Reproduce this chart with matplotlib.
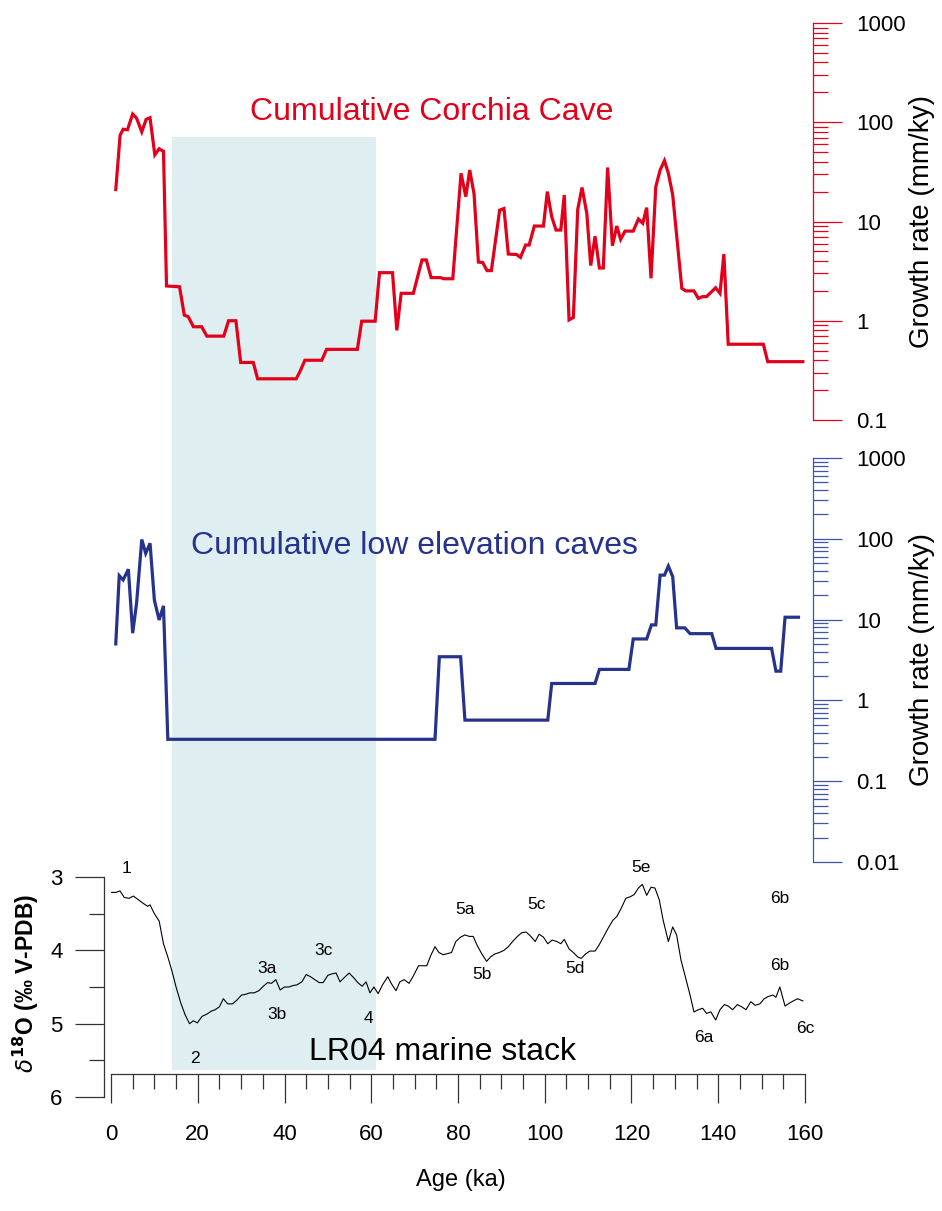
import numpy as np
import matplotlib
matplotlib.use("Agg")
import matplotlib.pyplot as plt
import matplotlib.ticker as mticker
from matplotlib.patches import Rectangle
from matplotlib.transforms import blended_transform_factory

plt.rcParams['font.family'] = ['Liberation Sans', 'DejaVu Sans']

# ----- data

corchia_age = [1.1, 2.1, 2.8, 3.8, 5.0, 5.9, 7.1, 8.1, 9.0, 10.1, 11.1, 12.1, 12.8,
               15.8, 16.9, 17.8, 19.0, 20.9, 22.1, 26.0, 27.1, 28.8, 29.9, 32.8, 33.8,
               42.7, 43.6, 44.7, 48.6, 49.7, 56.8, 57.8, 60.9, 61.9, 64.9, 65.9, 66.9,
               69.7, 71.7, 72.7, 73.8, 76.0, 76.7, 78.8, 80.7, 81.8, 82.7, 83.7, 84.7,
               85.7, 86.7, 87.7, 89.6, 90.6, 91.6, 93.5, 94.4, 95.6, 96.4, 97.6, 99.7,
               100.6, 101.6, 102.6, 103.7, 104.5, 105.6, 106.6, 107.6, 108.6, 109.7,
               110.6, 111.6, 112.6, 113.5, 114.5, 115.6, 116.6, 117.5, 118.5, 120.4,
               121.6, 122.6, 123.5, 124.5, 125.6, 126.6, 127.6, 128.5, 129.5, 131.6,
               132.5, 134.4, 135.4, 136.4, 137.3, 139.4, 140.4, 141.3, 142.3, 150.4,
               151.4, 159.5]
corchia_rate = [21, 74, 85, 84, 121, 110, 80, 107, 111, 47, 54, 51, 2.24,
                2.2, 1.14, 1.1, 0.87, 0.87, 0.70, 0.70, 1.0, 1.0, 0.38, 0.38, 0.26,
                0.26, 0.31, 0.40, 0.40, 0.515, 0.515, 0.99, 0.99, 3.05, 3.05, 0.80, 1.89,
                1.89, 4.1, 4.1, 2.72, 2.72, 2.65, 2.65, 30.6, 17.8, 33, 19, 3.9,
                3.86, 3.2, 3.2, 13, 13.5, 4.7, 4.65, 4.35, 5.8, 5.8, 9.0, 9.0,
                20, 11.2, 8.2, 8.2, 18.5, 1.02, 1.08, 13.2, 22, 12,
                3.6, 7.1, 3.4, 3.4, 35, 5.7, 9.0, 6.6, 8.0, 8.0,
                10.6, 9.6, 13.8, 2.68, 22.4, 33, 41, 30.6, 18.5, 2.12,
                2.0, 2.0, 1.68, 1.75, 1.75, 2.15, 1.89, 4.7, 0.58, 0.58,
                0.387, 0.387]

low_age = [1.1, 1.9, 2.8, 4.0, 5.0, 5.9, 7.1, 8.0, 9.0, 10.0, 11.1, 12.1, 13.1,
           74.7, 75.7, 80.6, 81.6, 100.7, 101.6, 111.6, 112.6, 119.4, 120.4, 123.5,
           124.6, 125.6, 126.6, 127.6, 128.5, 129.5, 130.4, 132.3, 133.5, 138.5,
           139.5, 152.3, 153.3, 154.4, 155.4, 158.5]
low_rate = [5.0, 35, 31, 42, 6.8, 16, 98, 66, 88, 17.4, 9.9, 14.8, 0.33,
            0.33, 3.47, 3.47, 0.57, 0.57, 1.62, 1.62, 2.42, 2.42, 5.76, 5.76,
            8.6, 8.6, 35.5, 35.5, 46, 34, 7.9, 7.9, 6.7, 6.7,
            4.4, 4.4, 2.3, 2.3, 10.7, 10.7]

lr04_age = [0.15, 1.15, 2.07, 3.07, 4.15, 5.15, 6.3, 7.45, 8.45, 9.0, 10.0, 11.1, 12.1,
            13.1, 14.0, 15.0, 16.1, 17.1, 18.1, 19.0, 19.9, 21.0, 22.1, 23.1, 24.0,
            25.0, 25.9, 26.9, 28.0, 29.0, 30.1, 31.0, 32.0, 33.0, 34.1, 35.1, 36.1,
            37.0, 38.0, 39.0, 40.0, 41.0, 42.0, 42.9, 44.0, 45.0, 46.0, 47.0, 48.0,
            48.9, 50.0, 51.0, 51.9, 52.8, 53.8, 54.9, 55.9, 56.9, 57.9, 58.8, 59.7,
            60.6, 61.6, 62.6, 63.8, 64.7, 65.7, 66.6, 67.6, 68.7, 69.7, 70.9, 72.8,
            73.8, 74.7, 75.6, 76.6, 78.5, 79.5, 80.6, 81.6, 82.6, 83.5, 84.4, 85.5,
            86.6, 87.5, 88.5, 89.5, 90.6, 91.6, 92.6, 93.7, 94.7, 95.7, 96.8, 97.8,
            98.7, 99.7, 100.7, 101.7, 102.8, 103.7, 104.5, 105.6, 106.6, 107.6, 108.4,
            109.4, 110.4, 111.6, 112.5, 113.5, 114.6, 115.7, 116.6, 117.6, 118.7,
            119.7, 120.6, 121.6, 122.5, 123.5, 124.5, 125.4, 126.4, 127.3, 128.5,
            129.5, 130.4, 131.4, 132.5, 133.5, 134.4, 135.4, 136.4, 137.3, 138.3,
            139.4, 140.4, 141.4, 142.3, 143.3, 144.4, 145.4, 146.4, 147.5, 148.5,
            149.6, 150.6, 151.5, 152.6, 153.3, 154.2, 155.4, 156.4, 157.3, 158.3, 159.5]
lr04_d18o = [3.21, 3.21, 3.19, 3.28, 3.29, 3.26, 3.31, 3.36, 3.40, 3.38, 3.50, 3.60, 3.91,
             4.09, 4.27, 4.50, 4.72, 4.88, 5.00, 4.96, 4.99, 4.90, 4.87, 4.83, 4.81,
             4.77, 4.66, 4.73, 4.73, 4.68, 4.61, 4.60, 4.58, 4.58, 4.55, 4.49, 4.44,
             4.45, 4.40, 4.54, 4.50, 4.50, 4.48, 4.47, 4.43, 4.33, 4.36, 4.40, 4.44,
             4.44, 4.34, 4.32, 4.31, 4.43, 4.37, 4.31, 4.37, 4.44, 4.49, 4.43, 4.58,
             4.50, 4.59, 4.47, 4.36, 4.46, 4.55, 4.43, 4.40, 4.45, 4.35, 4.21, 4.21,
             4.06, 3.95, 4.03, 4.06, 4.03, 3.88, 3.82, 3.79, 3.81, 3.81, 3.93, 4.05,
             4.15, 4.09, 4.05, 4.03, 4.00, 3.95, 3.88, 3.81, 3.76, 3.75, 3.81, 3.88,
             3.78, 3.82, 3.91, 3.86, 3.88, 3.91, 3.85, 3.98, 4.03, 4.09, 4.11,
             4.05, 4.01, 4.01, 3.93, 3.82, 3.70, 3.59, 3.54, 3.43, 3.29,
             3.27, 3.24, 3.15, 3.10, 3.25, 3.14, 3.15, 3.31, 3.59, 3.88,
             3.68, 3.79, 4.13, 4.38, 4.61, 4.84, 4.81, 4.79, 4.86, 4.84,
             4.95, 4.81, 4.74, 4.76, 4.81, 4.74, 4.77, 4.81, 4.70, 4.75,
             4.73, 4.66, 4.63, 4.61, 4.64, 4.50, 4.76, 4.72, 4.69, 4.66, 4.69]

mis_labels = ['1', '2', '3a', '3b', '3c', '4', '5a', '5b', '5c', '5d', '5e',
              '6a', '6b', '6b', '6c']
mis_age = [3.6, 19.4, 35.9, 38.2, 49.0, 59.3, 81.6, 85.5, 98.1, 107.0, 122.3,
           136.6, 154.1, 154.1, 160.0]
mis_d18o = [2.88, 5.47, 4.25, 4.88, 4.00, 4.93, 3.44, 4.33, 3.38, 4.25, 2.87,
            5.19, 3.29, 4.20, 5.06]

shade_start, shade_end = 14.0, 61.0   # ka

# ----- layout (pixels in a 942 x 1211 figure)

W, H = 942, 1211
fig = plt.figure(figsize=(W / 100, H / 100), dpi=100)

def frac(left, top, right, bottom):
    return [left / W, 1 - bottom / H, (right - left) / W, (bottom - top) / H]

red = '#e2001a'
blue = '#25338c'
blue_spine = '#3d56a6'
shade = '#dfeef0'
tick_fs = 16
title_fs = 23

ax_bot = fig.add_axes(frac(111, 877, 805, 1097))
ax_red = fig.add_axes(frac(111, 23, 805, 420))
ax_blue = fig.add_axes(frac(111, 458, 805, 862))

for ax in (ax_bot, ax_red, ax_blue):
    ax.set_facecolor('none')
    ax.set_xlim(0, 160)

# shaded interval behind every panel
trans = blended_transform_factory(ax_bot.transData, fig.transFigure)
ax_bot.add_patch(Rectangle((shade_start, 1 - 1070 / H), shade_end - shade_start,
                           (1070 - 137) / H, transform=trans, facecolor=shade,
                           edgecolor='none', clip_on=False, zorder=0))

# ----- growth rate panels

def growth_axis(ax, ymin, spine_color):
    ax.set_yscale('log')
    ax.set_ylim(ymin, 1000)
    for s in ('top', 'bottom', 'left'):
        ax.spines[s].set_visible(False)
    ax.spines['right'].set_position(('outward', 6))
    ax.spines['right'].set_color(spine_color)
    ax.spines['right'].set_linewidth(0.9)
    ax.yaxis.tick_right()
    ax.xaxis.set_visible(False)
    ax.yaxis.set_major_locator(mticker.LogLocator(base=10, numticks=10))
    ax.yaxis.set_minor_locator(mticker.LogLocator(base=10, subs=np.arange(2, 10), numticks=20))
    ax.yaxis.set_major_formatter(mticker.FuncFormatter(lambda v, p: '{:g}'.format(v)))
    ax.yaxis.set_minor_formatter(mticker.NullFormatter())
    ax.tick_params(axis='y', which='major', direction='out', length=21, width=0.9,
                   color=spine_color, labelsize=tick_fs, pad=10)
    ax.tick_params(axis='y', which='minor', direction='out', length=11, width=0.9,
                   color=spine_color)
    ax.text(1.168, 0.5, 'Growth rate (mm/ky)', transform=ax.transAxes, rotation=90,
            ha='center', va='center', fontsize=20)

ax_red.plot(corchia_age, corchia_rate, color=red, lw=2.3, solid_joinstyle='miter')
growth_axis(ax_red, 0.1, red)
ax_red.text(0.4625, 0.776, 'Cumulative Corchia Cave', transform=ax_red.transAxes,
            ha='center', va='center', color=red, fontsize=title_fs)

ax_blue.plot(low_age, low_rate, color=blue, lw=2.3, solid_joinstyle='miter')
growth_axis(ax_blue, 0.01, blue_spine)
ax_blue.text(0.4366, 0.782, 'Cumulative low elevation caves', transform=ax_blue.transAxes,
             ha='center', va='center', color=blue, fontsize=title_fs)

# ----- LR04 panel

ax_bot.plot(lr04_age, lr04_d18o, color='black', lw=0.8)
ax_bot.set_ylim(6, 3)
for lab, a, d in zip(mis_labels, mis_age, mis_d18o):
    ax_bot.text(a, d, lab, ha='center', va='center', fontsize=12.5)
ax_bot.text(76.5, 5.39, 'LR04 marine stack', ha='center', va='center', fontsize=title_fs)

ax_bot.spines['top'].set_visible(False)
ax_bot.spines['right'].set_visible(False)
ax_bot.spines['left'].set_position(('outward', 5))
ax_bot.spines['bottom'].set_position(('axes', (1097 - 1074) / 220))
for s in ('left', 'bottom'):
    ax_bot.spines[s].set_color('#333333')
    ax_bot.spines[s].set_linewidth(0.9)

ax_bot.xaxis.set_major_locator(mticker.MultipleLocator(20))
ax_bot.xaxis.set_minor_locator(mticker.MultipleLocator(5))
ax_bot.yaxis.set_major_locator(mticker.MultipleLocator(1))
ax_bot.yaxis.set_minor_locator(mticker.MultipleLocator(0.5))
ax_bot.tick_params(which='major', direction='out', length=21, width=0.9,
                   color='#333333', labelsize=tick_fs)
ax_bot.tick_params(which='minor', direction='out', length=11, width=0.9, color='#333333')
ax_bot.tick_params(axis='y', pad=9)
ax_bot.tick_params(axis='x', pad=15)

ax_bot.text(-0.122, 0.518, r'$\delta^{\mathbf{18}}$O (‰ V-PDB)', transform=ax_bot.transAxes,
            rotation=90, ha='center', va='center', fontsize=16.5, fontweight='bold')
ax_bot.text(0.504, -0.377, 'Age (ka)', transform=ax_bot.transAxes,
            ha='center', va='center', fontsize=17)

fig.savefig('out.png', dpi=100)
